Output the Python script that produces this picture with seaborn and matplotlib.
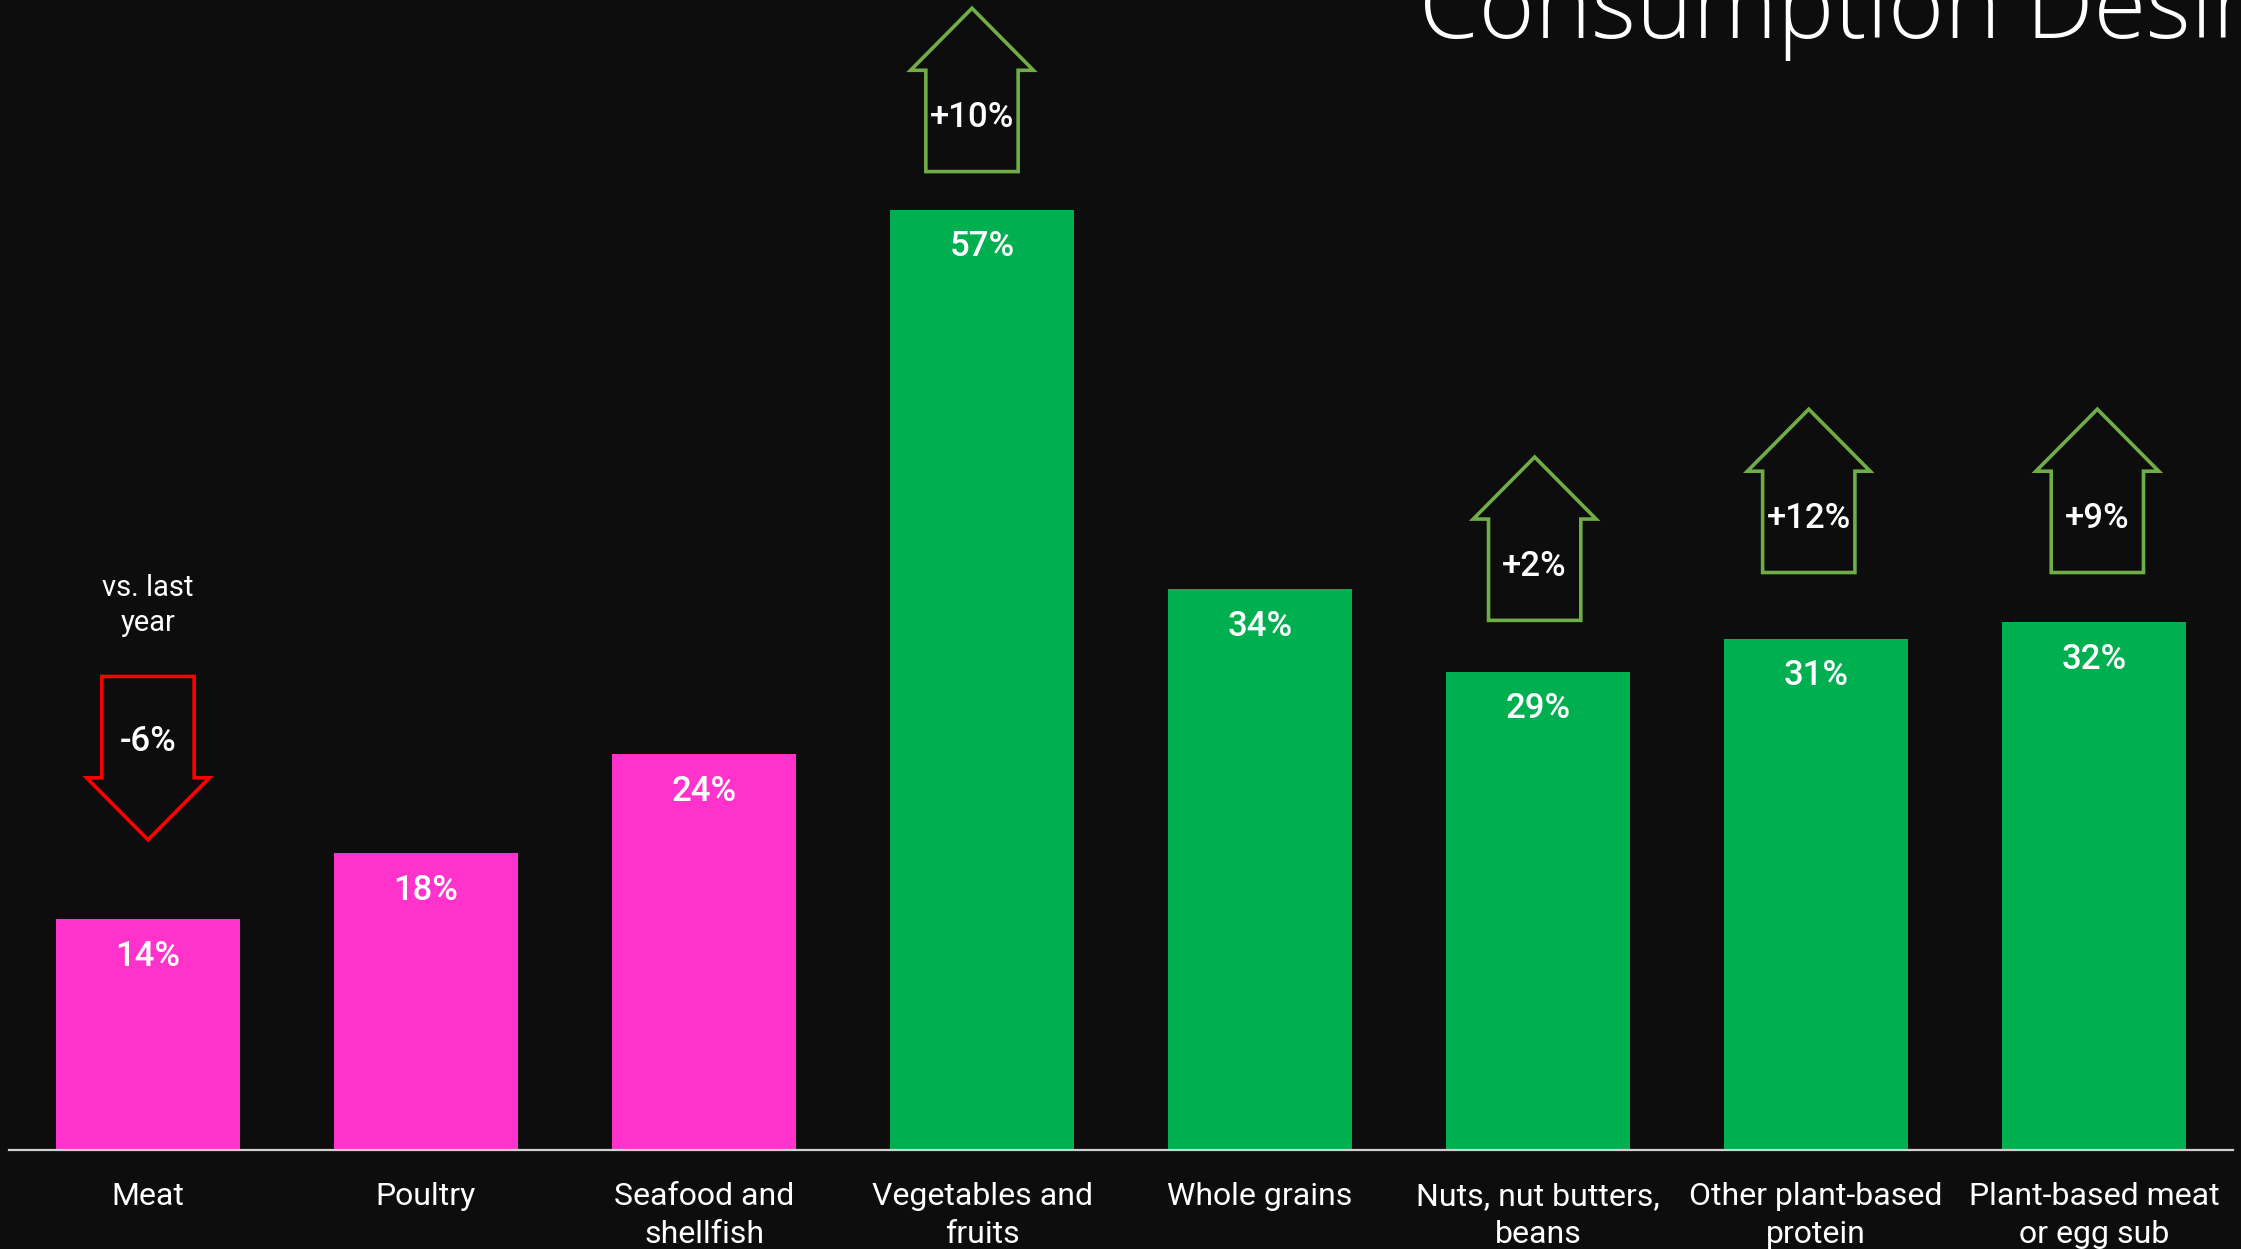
import matplotlib
matplotlib.use("Agg")
import matplotlib.pyplot as plt
import seaborn as sns
import pandas as pd
from matplotlib.patches import Polygon

# ---------------- data ----------------
categories = ["Meat", "Poultry", "Seafood and\nshellfish", "Vegetables and\nfruits",
              "Whole grains", "Nuts, nut butters,\nbeans", "Other plant-based\nprotein",
              "Plant-based meat\nor egg sub"]
values = [14, 18, 24, 57, 34, 29, 31, 32]
groups = ["animal", "animal", "animal", "plant", "plant", "plant", "plant", "plant"]
change_labels = ["-6%", None, None, "+10%", None, "+2%", "+12%", "+9%"]
change_direction = ["down", None, None, "up", None, "up", "up", "up"]
title = "Consumption Desire"
note = "vs. last\nyear"

# ---------------- layout / style ----------------
BG = "#0D0D0D"
PINK = "#FF33CC"
GREEN = "#00B050"
ARROW_GREEN = "#70AD47"
ARROW_RED = "#FF0000"
group_colors = {"animal": PINK, "plant": GREEN}
# anchor (base for up arrows, top for down arrows) in data units, and x nudge
arrow_anchor = {0: 28.7, 3: 59.3, 5: 32.1, 6: 35.0, 7: 35.0}
arrow_dx = {0: 0.0, 3: -0.036, 5: -0.012, 6: -0.026, 7: 0.012}
ARROW_H, HEAD_H, HALF_W, SHAFT_HW = 9.9, 3.76, 0.221, 0.166

sns.set_theme(style="dark")
plt.rcParams["font.family"] = ["Roboto", "DejaVu Sans"]

fig = plt.figure(figsize=(22.41, 12.49), dpi=100, facecolor=BG)
ax = fig.add_axes([9 / 2241, 99 / 1249, 2224 / 2241, 1150 / 1249])
ax.set_facecolor(BG)

df = pd.DataFrame({"cat": categories, "val": values, "grp": groups})
palette = [group_colors[g] for g in groups]
sns.barplot(data=df, x="cat", y="val", hue="cat", palette=palette, legend=False,
            width=0.665, saturation=1, linewidth=0, ax=ax)

ax.set_xlim(-0.5, 7.5)
ax.set_ylim(0, 69.7)
ax.set_xlabel("")
ax.set_ylabel("")
ax.set_yticks([])
for s in ["left", "right", "top"]:
    ax.spines[s].set_visible(False)
ax.spines["bottom"].set_color("#D0D0D0")
ax.spines["bottom"].set_linewidth(1.6)
ax.tick_params(axis="x", length=0, pad=23, colors="white", labelsize=23)
for lbl in ax.get_xticklabels():
    lbl.set_linespacing(1.4)
    lbl.set_color("white")
ax.grid(False)

# value labels inside bars
for i, v in enumerate(values):
    ax.text(i, v - 2.25, f"{v}%", ha="center", va="center", color="white",
            fontsize=25, fontweight="medium")

# change arrows
for i, (lab, d) in enumerate(zip(change_labels, change_direction)):
    if lab is None:
        continue
    cx = i + arrow_dx[i]
    a = arrow_anchor[i]
    if d == "up":
        sgn = 1
        ec = ARROW_GREEN
    else:
        sgn = -1
        ec = ARROW_RED
    y_head = a + sgn * (ARROW_H - HEAD_H)
    y_tip = a + sgn * ARROW_H
    pts = [(cx - SHAFT_HW, a), (cx + SHAFT_HW, a), (cx + SHAFT_HW, y_head),
           (cx + HALF_W, y_head), (cx, y_tip), (cx - HALF_W, y_head), (cx - SHAFT_HW, y_head)]
    ax.add_patch(Polygon(pts, closed=True, facecolor="none", edgecolor=ec,
                         linewidth=2.6, joinstyle="miter", clip_on=False))
    ax.text(cx, a + sgn * (3.25 if sgn > 0 else 3.95), lab, ha="center", va="center",
            color="white", fontsize=25, fontweight="medium")

ax.text(0, 33.0, note, ha="center", va="center", color="white", fontsize=21,
        linespacing=1.3)

fig.text(1419 / 2241, 1 - 38 / 1249, title, ha="left", va="baseline", color="white",
         fontsize=69, fontweight="light", family=["Open Sans", "DejaVu Sans"])

fig.savefig("out.png", dpi=100, facecolor=BG)
